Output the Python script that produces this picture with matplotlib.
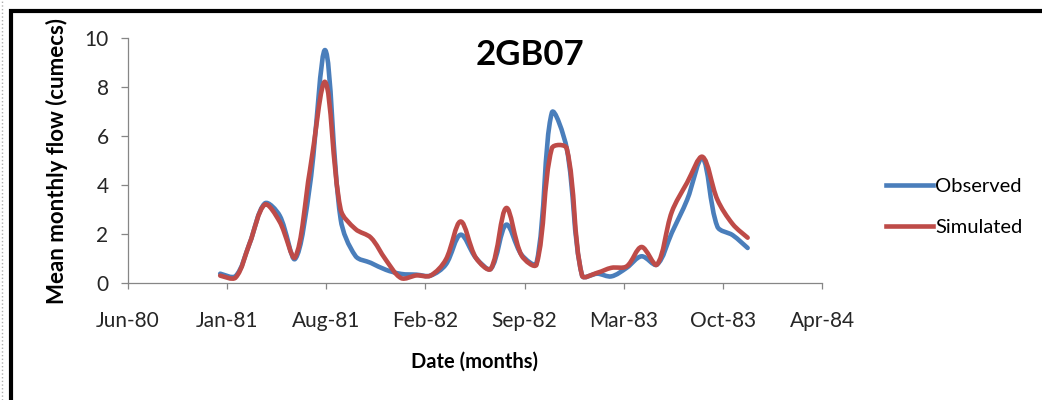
import numpy as np
import pandas as pd
import matplotlib
matplotlib.use('Agg')
import matplotlib.pyplot as plt
import matplotlib.dates as mdates
from matplotlib.path import Path
from matplotlib.patches import PathPatch, Rectangle
from matplotlib.lines import Line2D

plt.rcParams['font.family'] = ['Lato', 'DejaVu Sans']

# ── Data (mean monthly flow, cumecs) ───────────────────────────────────────
months = pd.date_range('1981-01-01', periods=36, freq='MS')
observed = [0.38, 0.28, 1.6, 3.25, 2.75, 0.98, 4.0, 9.5, 2.6, 1.1, 0.82, 0.54,
            0.37, 0.34, 0.3, 0.75, 1.97, 1.02, 0.58, 2.38, 1.15, 0.8, 6.95, 5.5,
            0.3, 0.38, 0.27, 0.62, 1.09, 0.75, 2.05, 3.4, 5.1, 2.3, 1.95, 1.43]
simulated = [0.3, 0.22, 1.6, 3.2, 2.5, 1.05, 4.6, 8.2, 3.0, 2.2, 1.85, 0.95,
             0.2, 0.31, 0.3, 0.95, 2.51, 1.02, 0.58, 3.06, 1.12, 0.75, 5.5, 5.5,
             0.3, 0.42, 0.62, 0.68, 1.47, 0.75, 2.9, 4.1, 5.15, 3.4, 2.4, 1.85]

# Excel-style date axis: major unit of 200 days
axis_start = pd.Timestamp('1980-06-29')
n_ticks = 8
tick_step_days = 200

BLUE = '#4A7EBB'
RED = '#BE4B48'
GREY = '#868686'


def smooth_path(x, y, trans):
    """Smoothed line like Excel: cubic Bezier through every data point,
    control arms weighted by neighbouring segment lengths on screen."""
    pts = np.column_stack([x, y])
    pix = trans.transform(pts)
    n = len(pts)
    c_in = pts.copy()
    c_out = pts.copy()
    c_out[0] = pts[0] + (pts[1] - pts[0]) / 6
    c_in[-1] = pts[-1] - (pts[-1] - pts[-2]) / 6
    for i in range(1, n - 1):
        d1 = np.hypot(*(pix[i] - pix[i - 1]))
        d2 = np.hypot(*(pix[i + 1] - pix[i]))
        tan = pts[i + 1] - pts[i - 1]
        c_in[i] = pts[i] - tan * d1 / (d1 + d2) / 3
        c_out[i] = pts[i] + tan * d2 / (d1 + d2) / 3
    verts = [pts[0]]
    codes = [Path.MOVETO]
    for i in range(n - 1):
        verts += [c_out[i], c_in[i + 1], pts[i + 1]]
        codes += [Path.CURVE4] * 3
    return Path(verts, codes)


fig = plt.figure(figsize=(10.42, 4.0), dpi=100)
ax = fig.add_axes([128 / 1042, 117 / 400, 694 / 1042, 245 / 400])

ticks = [axis_start + pd.Timedelta(days=tick_step_days * k) for k in range(n_ticks)]
ax.set_xlim(mdates.date2num(ticks[0]), mdates.date2num(ticks[-1]))
ax.set_ylim(0, 10)
ax.set_xticks(mdates.date2num(ticks))
ax.xaxis.set_major_formatter(mdates.DateFormatter('%b-%y'))
ax.set_yticks([0, 2, 4, 6, 8, 10])

xnum = mdates.date2num(months)
for vals, col in [(observed, BLUE), (simulated, RED)]:
    ax.add_patch(PathPatch(smooth_path(xnum, np.array(vals), ax.transData),
                           fill=False, edgecolor=col, lw=3.3,
                           joinstyle='round', capstyle='round'))

for s in ['top', 'right']:
    ax.spines[s].set_visible(False)
for s in ['left', 'bottom']:
    ax.spines[s].set_color(GREY)
    ax.spines[s].set_linewidth(0.9)
ax.tick_params(axis='both', colors=GREY, labelcolor='#262626', labelsize=15,
               width=0.9, direction='out')
ax.tick_params(axis='y', length=5, pad=9)
ax.tick_params(axis='x', length=4.5, pad=15.5)

ax.set_ylabel('Mean monthly flow (cumecs)', fontsize=16, fontweight='bold',
              labelpad=12)
ax.set_xlabel('Date (months)', fontsize=14.5, fontweight='bold', labelpad=15)

fig.text(530 / 1042, 1 - 55 / 400, '2GB07', fontsize=25, fontweight='bold',
         ha='center', va='center')

handles = [Line2D([], [], color=BLUE, lw=3.3), Line2D([], [], color=RED, lw=3.3)]
fig.legend(handles, ['Observed', 'Simulated'], loc='center left',
           bbox_to_anchor=(886 / 1042, 1 - 207 / 400), frameon=False,
           fontsize=14.5, handlelength=2.35, handletextpad=0.1,
           labelspacing=1.15, borderpad=0, borderaxespad=0)

# outer frame of the pasted figure
fig.add_artist(Rectangle((11 / 1042, -0.2), 1.5, 1.2 - 11 / 400,
                         transform=fig.transFigure, fill=False,
                         edgecolor='black', lw=3))
fig.add_artist(Line2D([2 / 1042, 2 / 1042], [0, 1], transform=fig.transFigure,
                      color='#b0b0b0', lw=1, ls=':'))

fig.savefig('out.png', dpi=100)
